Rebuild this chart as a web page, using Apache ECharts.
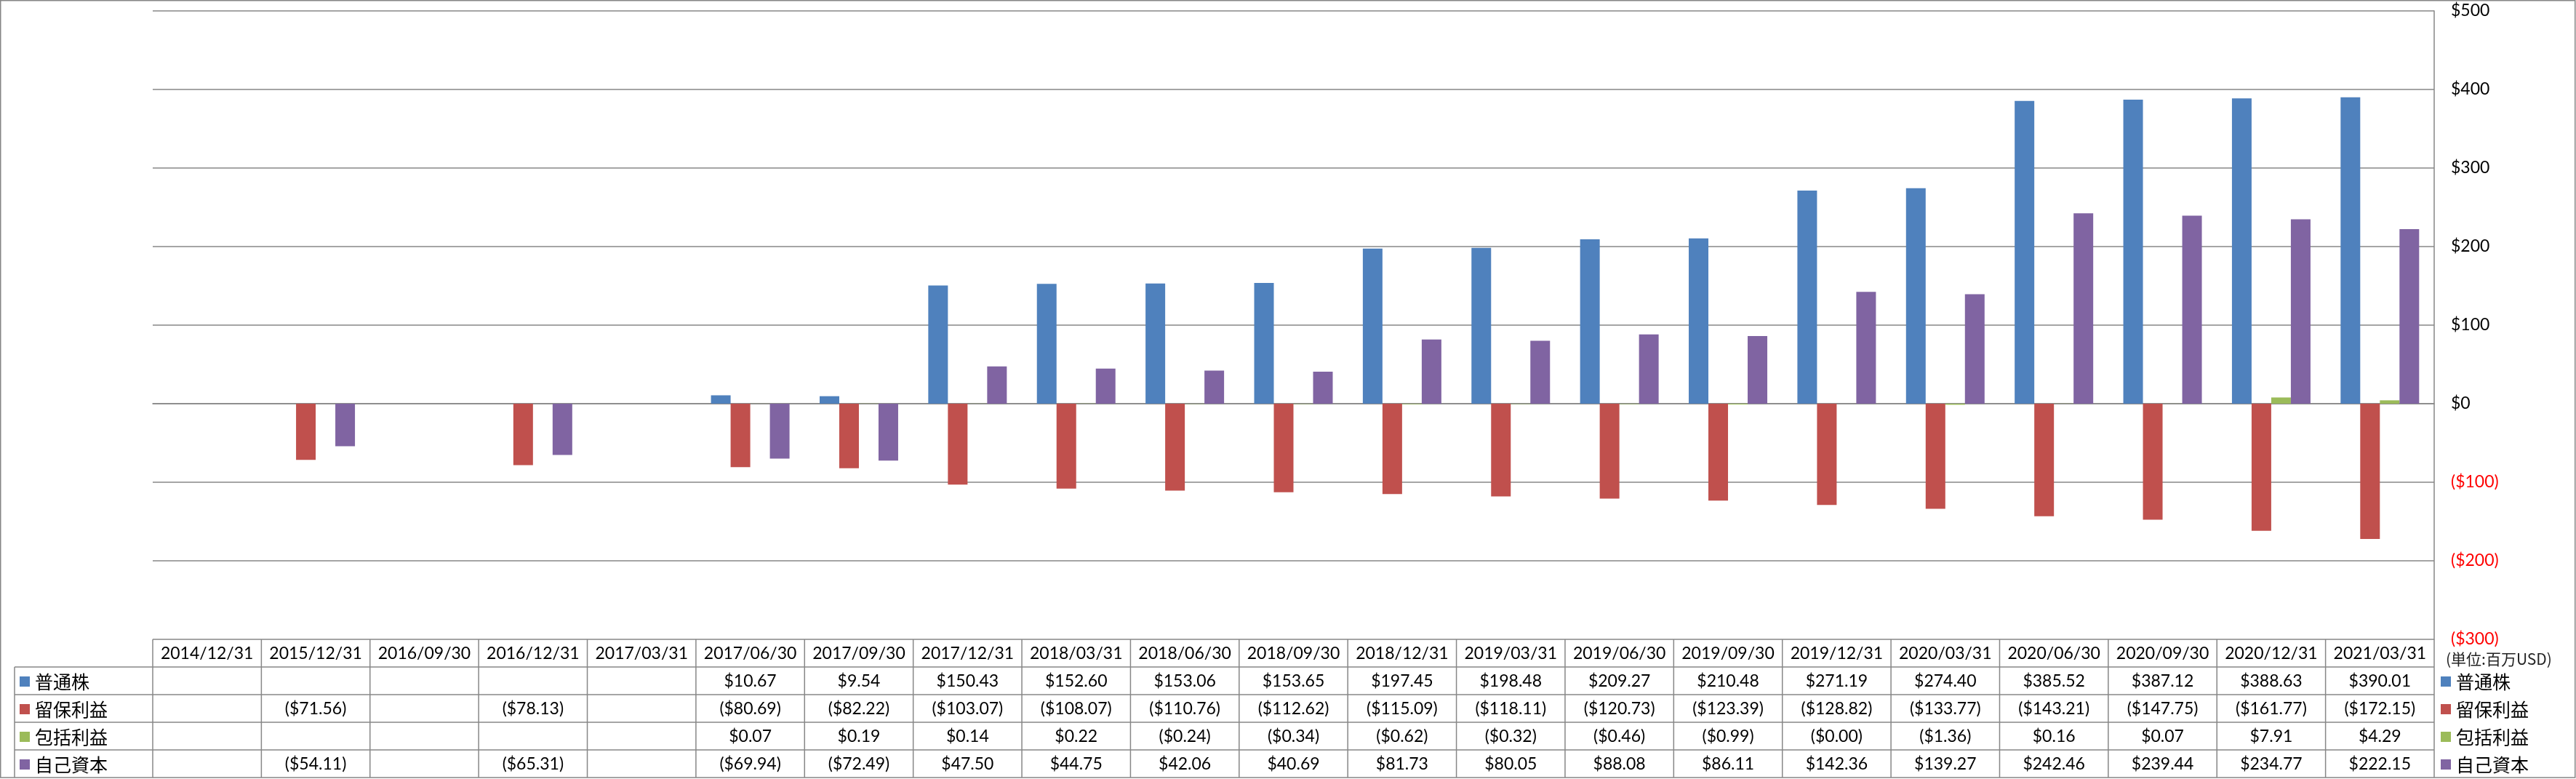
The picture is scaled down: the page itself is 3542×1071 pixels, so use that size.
<!DOCTYPE html>
<html>
<head>
<meta charset="utf-8">
<script src="https://cdn.jsdelivr.net/npm/echarts@6/dist/echarts.min.js"></script>
<style>
  html, body { margin: 0; padding: 0; background: #fff; }
  #main { width: 3542px; height: 1071px; }
</style>
</head>
<body>
<div id="main"></div>
<script>
// 決算期
const dates = ['2014/12/31', '2015/12/31', '2016/09/30', '2016/12/31', '2017/03/31', '2017/06/30', '2017/09/30',
  '2017/12/31', '2018/03/31', '2018/06/30', '2018/09/30', '2018/12/31', '2019/03/31', '2019/06/30',
  '2019/09/30', '2019/12/31', '2020/03/31', '2020/06/30', '2020/09/30', '2020/12/31', '2021/03/31'];

const seriesNames = ['普通株', '留保利益', '包括利益', '自己資本'];

const commonStock = [null, null, null, null, null, 10.67, 9.54, 150.43, 152.60, 153.06, 153.65, 197.45, 198.48,
  209.27, 210.48, 271.19, 274.40, 385.52, 387.12, 388.63, 390.01];
const retainedEarnings = [null, -71.56, null, -78.13, null, -80.69, -82.22, -103.07, -108.07, -110.76, -112.62,
  -115.09, -118.11, -120.73, -123.39, -128.82, -133.77, -143.21, -147.75, -161.77, -172.15];
const comprehensiveIncome = [null, null, null, null, null, 0.07, 0.19, 0.14, 0.22, -0.24, -0.34, -0.62, -0.32,
  -0.46, -0.99, -0, -1.36, 0.16, 0.07, 7.91, 4.29];
const equity = [null, -54.11, null, -65.31, null, -69.94, -72.49, 47.50, 44.75, 42.06, 40.69, 81.73, 80.05,
  88.08, 86.11, 142.36, 139.27, 242.46, 239.44, 234.77, 222.15];

const yMin = -300, yMax = 500, yStep = 100;
const unitLabel = '(単位:百万USD)';

const allSeries = [commonStock, retainedEarnings, comprehensiveIncome, equity];
const colors = ['#4F81BD', '#C0504D', '#9BBB59', '#8064A2'];
const lineColor = '#878787';
const numFont = 'Lato, "Liberation Sans", sans-serif';
const cjkFont = '"Noto Sans CJK JP", sans-serif';

function money(v) {
  if (v == null) return '';
  const neg = v < 0 || Object.is(v, -0);
  const s = '$' + Math.abs(v).toFixed(2);
  return neg ? '(' + s + ')' : s;
}

const chart = echarts.init(document.getElementById('main'));

const option = {
  animation: false,
  backgroundColor: '#fff',
  grid: { left: 210, right: 195, top: 15, bottom: 192 },
  xAxis: {
    type: 'category',
    data: dates,
    axisLine: { show: true, onZero: true, lineStyle: { color: lineColor, width: 1.5 } },
    axisTick: { show: false },
    axisLabel: { show: false }
  },
  yAxis: {
    type: 'value',
    position: 'right',
    min: yMin,
    max: yMax,
    interval: yStep,
    axisLine: { show: true, lineStyle: { color: lineColor, width: 1.5 } },
    axisTick: { show: false },
    splitLine: { lineStyle: { color: lineColor, width: 1.5 } },
    axisLabel: {
      margin: 23,
      fontSize: 23,
      fontFamily: numFont,
      color: '#000',
      formatter: function (v) {
        return v < 0 ? '{n|($' + (-v) + ')}' : '$' + v;
      },
      rich: { n: { color: '#FF0000', fontSize: 23, fontFamily: numFont } }
    }
  },
  series: allSeries.map(function (data, i) {
    return {
      name: seriesNames[i],
      type: 'bar',
      data: data,
      barWidth: 27,
      barGap: '0%',
      itemStyle: { color: colors[i] }
    };
  })
};

chart.setOption(option);

// データテーブル（グラフ下）
const colCenters = dates.map(function (d) { return chart.convertToPixel({ xAxisIndex: 0 }, d); });
const colW = colCenters[1] - colCenters[0];
const tableLeft = colCenters[0] - colW / 2;
const tableRight = colCenters[colCenters.length - 1] + colW / 2;
const tableTop = chart.convertToPixel({ yAxisIndex: 0 }, yMin);
const rowH = 38;
const headBottom = tableTop + rowH;
const tableBottom = headBottom + rowH * seriesNames.length;
const legendLeft = 20;

const g = [];
function line(x1, y1, x2, y2) {
  g.push({ type: 'line', z: 100, silent: true,
    shape: { x1: x1, y1: y1, x2: x2, y2: y2 },
    style: { stroke: lineColor, lineWidth: 1.5 } });
}
function text(str, x, y, size, font, align, color) {
  g.push({ type: 'text', z: 101, silent: true, x: x, y: y,
    style: { text: str, fontSize: size, fontFamily: font, fill: color || '#000',
      align: align, verticalAlign: 'middle', textAlign: align, textVerticalAlign: 'middle' } });
}

// outer border
g.push({ type: 'rect', z: 99, silent: true,
  shape: { x: 0.75, y: 0.75, width: 3540, height: tableBottom - 0.75 },
  style: { fill: null, stroke: lineColor, lineWidth: 1.5 } });

// vertical lines
for (let k = 0; k <= dates.length; k++) {
  const x = tableLeft + k * colW;
  line(x, tableTop, x, tableBottom);
}
line(legendLeft, headBottom, legendLeft, tableBottom);
// horizontal lines
for (let r = 0; r < seriesNames.length; r++) {
  const y = headBottom + r * rowH;
  line(legendLeft, y, tableRight, y);
}

// header
dates.forEach(function (d, i) {
  text(d, colCenters[i], tableTop + rowH / 2 + 1, 23, numFont, 'center');
});

// rows
seriesNames.forEach(function (name, r) {
  const cy = headBottom + r * rowH + rowH / 2 + 1;
  // left legend
  g.push({ type: 'rect', z: 101, silent: true,
    shape: { x: 27, y: cy - 7, width: 14, height: 14 }, style: { fill: colors[r] } });
  text(name, 48, cy, 25, cjkFont, 'left');
  // right legend
  g.push({ type: 'rect', z: 101, silent: true,
    shape: { x: tableRight + 9, y: cy - 7, width: 14, height: 14 }, style: { fill: colors[r] } });
  text(name, tableRight + 30, cy, 25, cjkFont, 'left');
  // values
  allSeries[r].forEach(function (v, i) {
    text(money(v), colCenters[i], cy, 23, numFont, 'center');
  });
});

text(unitLabel, tableRight + 16, tableTop + 27, 21, cjkFont, 'left', '#222');

chart.setOption({ graphic: g });
</script>
</body>
</html>
